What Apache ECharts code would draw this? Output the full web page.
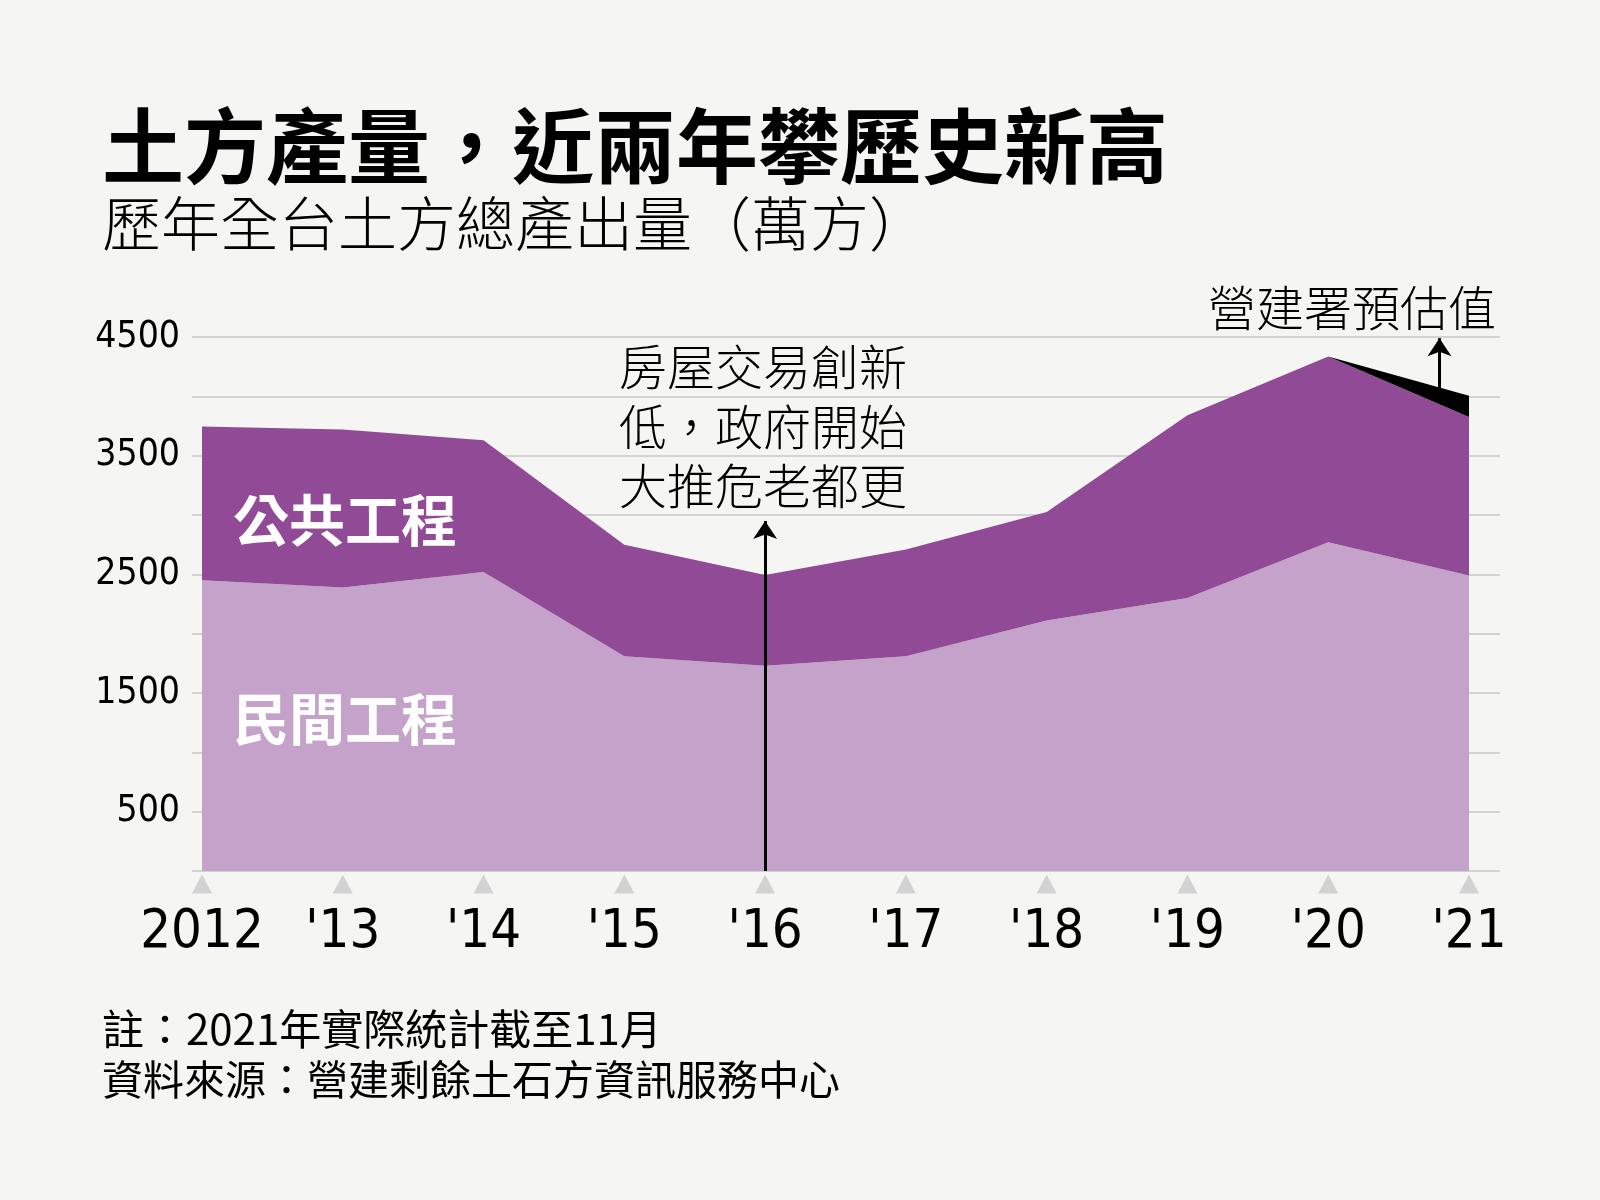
<!DOCTYPE html>
<html>
<head>
<meta charset="utf-8">
<title>土方產量</title>
<script src="https://cdn.jsdelivr.net/npm/echarts@6/dist/echarts.min.js"></script>
<style>
  html, body { margin: 0; padding: 0; background: #f5f5f3; }
  #chart { width: 1600px; height: 1200px; }
</style>
</head>
<body>
<div id="chart"></div>
<script>
// 年份標籤
var years = ['2012', "'13", "'14", "'15", "'16", "'17", "'18", "'19", "'20", "'21"];
// 民間工程 (萬方)
var privateWorks = [2450, 2390, 2520, 1810, 1730, 1810, 2110, 2300, 2770, 2490];
// 公共工程 (萬方)
var publicWorks = [1295, 1330, 1110, 940, 765, 900, 915, 1540, 1565, 1335];
// 營建署預估值超出部分，只畫 '20 到 '21
var estimateExtra = [null, null, null, null, null, null, null, null, 0, 180];
// y 軸刻度
var yTicks = [500, 1500, 2500, 3500, 4500];

var numFont = "'DejaVu Sans Condensed', 'Liberation Sans Narrow', Roboto, sans-serif";
var cjkFont = "'Noto Sans CJK TC', 'Noto Sans', sans-serif";

var myChart = echarts.init(document.getElementById('chart'));

function areaSeries(name, data, color) {
  return {
    name: name,
    type: 'line',
    xAxisIndex: 1,
    yAxisIndex: 1,
    stack: 'total',
    data: data,
    symbol: 'none',
    lineStyle: { width: 0 },
    areaStyle: { color: color, opacity: 1 },
    z: 2
  };
}

var option = {
  backgroundColor: '#f5f5f3',
  animation: false,
  // grid 0: 格線與 y 軸；grid 1: 資料區
  grid: [
    { left: 192, right: 100, top: 337, bottom: 329 },
    { left: 202, right: 131, top: 337, bottom: 329 }
  ],
  xAxis: [
    {
      gridIndex: 0,
      type: 'value',
      min: -0.071,
      max: 9.22,
      show: false
    },
    {
      gridIndex: 1,
      type: 'category',
      data: years,
      boundaryGap: false,
      axisLine: { show: false },
      axisTick: { show: false },
      splitLine: { show: false },
      axisLabel: {
        interval: 0,
        fontFamily: numFont,
        fontSize: 54,
        color: '#000',
        margin: 35
      }
    }
  ],
  yAxis: [
    {
      gridIndex: 0,
      type: 'value',
      min: 0,
      max: 4500,
      interval: 500,
      axisLine: { show: false },
      axisTick: { show: false },
      splitLine: { lineStyle: { color: '#d3d3d3', width: 2 } },
      axisLabel: {
        formatter: function (v) { return yTicks.indexOf(v) >= 0 ? String(v) : ''; },
        fontFamily: numFont,
        fontSize: 37,
        color: '#000',
        margin: 12
      }
    },
    {
      gridIndex: 1,
      type: 'value',
      min: 0,
      max: 4500,
      show: false
    }
  ],
  series: [
    areaSeries('民間工程', privateWorks, '#c5a2c9'),
    areaSeries('公共工程', publicWorks, '#914a96'),
    areaSeries('營建署預估值', estimateExtra, '#000'),
    {
      // 刻度下方的三角形
      type: 'scatter',
      xAxisIndex: 1,
      yAxisIndex: 1,
      data: years.map(function () { return 0; }),
      symbol: 'triangle',
      symbolSize: [20, 19],
      symbolOffset: [0, 13],
      itemStyle: { color: '#c9c9c9' },
      clip: false,
      silent: true,
      z: 3
    },
    {
      // 註解箭頭
      type: 'line',
      xAxisIndex: 0,
      yAxisIndex: 0,
      data: [[4, 0]],
      symbol: 'none',
      lineStyle: { width: 0 },
      silent: true,
      z: 5,
      markLine: {
        silent: true,
        symbol: ['none', 'arrow'],
        symbolSize: 18,
        label: { show: false },
        lineStyle: { color: '#000', width: 3, type: 'solid' },
        data: [
          [{ coord: [4, 0] }, { coord: [4, 2950] }],
          [{ coord: [8.79, 4070] }, { coord: [8.79, 4490] }]
        ]
      }
    }
  ],
  graphic: [
    { type: 'text', x: 102, y: 146, style: { text: '土方產量，近兩年攀歷史新高', font: 'bold 82px ' + cjkFont, fill: '#000', verticalAlign: 'middle' } },
    { type: 'text', x: 102, y: 224, style: { text: '歷年全台土方總產出量（萬方）', font: '300 59px ' + cjkFont, fill: '#000', verticalAlign: 'middle' } },
    { type: 'text', x: 233, y: 520, z: 10, style: { text: '公共工程', font: 'bold 56px ' + cjkFont, fill: '#fff', verticalAlign: 'middle' } },
    { type: 'text', x: 233, y: 719, z: 10, style: { text: '民間工程', font: 'bold 56px ' + cjkFont, fill: '#fff', verticalAlign: 'middle' } },
    { type: 'text', x: 619, y: 367, style: { text: '房屋交易創新', font: '300 48px ' + cjkFont, fill: '#000', verticalAlign: 'middle' } },
    { type: 'text', x: 619, y: 427, style: { text: '低，政府開始', font: '300 48px ' + cjkFont, fill: '#000', verticalAlign: 'middle' } },
    { type: 'text', x: 619, y: 486, style: { text: '大推危老都更', font: '300 48px ' + cjkFont, fill: '#000', verticalAlign: 'middle' } },
    { type: 'text', x: 1496, y: 308, style: { text: '營建署預估值', font: '300 48px ' + cjkFont, fill: '#000', align: 'right', verticalAlign: 'middle' } },
    { type: 'text', x: 102, y: 1029, style: { text: '註：2021年實際統計截至11月', font: '42px ' + cjkFont, fill: '#000', verticalAlign: 'middle' } },
    { type: 'text', x: 102, y: 1079, style: { text: '資料來源：營建剩餘土石方資訊服務中心', font: '41px ' + cjkFont, fill: '#000', verticalAlign: 'middle' } }
  ]
};

myChart.setOption(option);
</script>
</body>
</html>
